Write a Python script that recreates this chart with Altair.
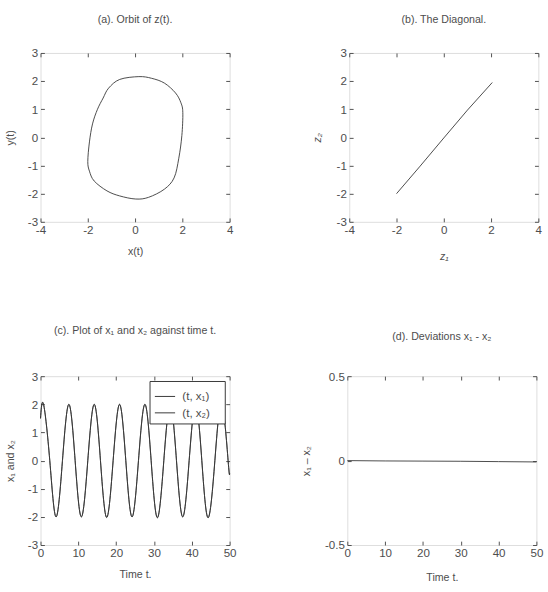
import altair as alt
import pandas as pd

FONT = "Liberation Sans, Arial, sans-serif"
INK = "#4d4d4d"
LINE = "#333333"
MINUS_FIX = "replace(datum.label, '\u2212', '-')"

# (a) orbit of z(t) in the (x, y) plane, read counter-clockwise from the top
orbit_x = [0.16, -0.65, -1.12, -1.35, -1.59, -1.80, -1.93, -2.00, -1.93, -1.73, -1.19, -0.65,
           0.03, 0.57, 1.24, 1.65, 1.85, 1.98, 2.02, 1.94, 1.71, 1.24, 0.70]
orbit_y = [2.16, 2.06, 1.75, 1.40, 1.00, 0.48, -0.16, -0.86, -1.20, -1.55, -1.90, -2.08,
           -2.19, -2.13, -1.84, -1.44, -0.74, 0.07, 0.88, 1.23, 1.58, 1.93, 2.10]

# (b) z1 against z2
diag_z1 = [-2.00, -1.00, 0.00, 1.00, 2.05]
diag_z2 = [-2.00, -1.02, -0.02, 0.97, 1.95]

# (c) x1 and x2 against time
time_c = [0.0, 0.8, 2.45, 4.1, 5.8, 7.5, 9.15, 10.8, 12.5, 14.2, 15.85, 17.5, 19.2, 20.9,
          22.55, 24.2, 25.9, 27.6, 29.25, 30.9, 32.6, 34.3, 35.95, 37.6, 39.3, 41.0,
          42.65, 44.3, 46.1, 47.9, 49.6, 50.0]
x1_c = [1.5, 2.0, 0.0, -2.0, 0.0, 2.0, 0.0, -2.0, 0.0, 2.0, 0.0, -2.02, 0.0, 2.0,
        0.0, -2.0, 0.0, 2.0, 0.0, -2.03, 0.0, 2.0, 0.0, -2.0, 0.0, 2.0,
        0.0, -2.03, 0.0, 2.0, 0.0, -0.45]
x2_c = [1.5, 2.0, 0.0, -2.0, 0.0, 2.0, 0.0, -2.0, 0.0, 2.0, 0.0, -2.02, 0.0, 2.0,
        0.0, -2.0, 0.0, 2.0, 0.0, -2.03, 0.0, 2.0, 0.0, -2.0, 0.0, 2.0,
        0.0, -2.03, 0.0, 2.0, 0.0, -0.45]
series_names = ["(t,    x\u2081)", "(t,    x\u2082)"]

# (d) deviation x1 - x2 against time
time_d = [0, 10, 20, 30, 40, 50]
dev_d = [0.0, -0.002, -0.003, -0.004, -0.006, -0.008]

W, H = 196, 175


def ax_label(orient, values, title, extent, pad, fmt=None, italic=False):
    kw = dict(orient=orient, values=values, offset=-4, tickSize=4, tickColor=INK,
              domain=False, grid=False, labelPadding=3, labelColor=INK,
              labelFont=FONT, labelFontSize=12, labelExpr=MINUS_FIX,
              title=title, titleFont=FONT,
              titleFontSize=11, titleFontWeight="normal", titleColor=INK,
              titlePadding=pad, minExtent=extent, maxExtent=extent, labelFlush=False)
    if fmt:
        kw["format"] = fmt
    if italic:
        kw["titleFontStyle"] = "italic"
    return alt.Axis(**kw)


def ax_plain(orient, values):
    return alt.Axis(orient=orient, values=values, offset=-4, tickSize=4, tickColor=INK,
                    domain=False, grid=False, labels=False, title=None,
                    minExtent=0, maxExtent=0)


def panel(df, xf, yf, xdom, ydom, xt, yt, xtitle, ytitle, ypad, xpad,
          title, toff, interp="linear", order=None, color=None, yfmt=None, italic=False):
    xs = alt.Scale(domain=xdom, nice=False, zero=False)
    ys = alt.Scale(domain=ydom, nice=False, zero=False)
    enc = {}
    if order:
        enc["order"] = alt.Order(order, type="quantitative")
    if color is not None:
        enc["color"] = color
    front = alt.Chart(df).mark_line(interpolate=interp, strokeWidth=0.9, color=LINE).encode(
        x=alt.X(xf, type="quantitative", scale=xs,
                axis=ax_label("bottom", xt, xtitle, 18, xpad, italic=italic)),
        y=alt.Y(yf, type="quantitative", scale=ys,
                axis=ax_label("left", yt, ytitle, 20, ypad, fmt=yfmt, italic=italic)),
        **enc,
    )
    back = alt.Chart(df).mark_line(interpolate=interp, strokeOpacity=0).encode(
        x=alt.X(xf, type="quantitative", scale=xs, axis=ax_plain("top", xt)),
        y=alt.Y(yf, type="quantitative", scale=ys, axis=ax_plain("right", yt)),
    )
    return alt.layer(front, back).resolve_axis(x="independent", y="independent").properties(
        width=W, height=H,
        title=alt.TitleParams(title, font=FONT, fontSize=11, fontWeight="normal",
                              color=INK, offset=toff),
    )


orbit = pd.DataFrame({"x": orbit_x, "y": orbit_y, "k": range(len(orbit_x))})
diag = pd.DataFrame({"z1": diag_z1, "z2": diag_z2})
series = pd.concat([
    pd.DataFrame({"t": time_c, "v": x1_c, "s": series_names[0]}),
    pd.DataFrame({"t": time_c, "v": x2_c, "s": series_names[1]}),
])
devs = pd.DataFrame({"t": time_d, "d": dev_d})

pa = panel(orbit, "x", "y", [-4, 4], [-3, 3], [-4, -2, 0, 2, 4], [-3, -2, -1, 0, 1, 2, 3],
           "x(t)", "y(t)", 10, 11, "(a). Orbit of z(t).", 23,
           interp="cardinal-closed", order="k")

pb = panel(diag, "z1", "z2", [-4, 4], [-3, 3], [-4, -2, 0, 2, 4], [-3, -2, -1, 0, 1, 2, 3],
           "z\u2081", "z\u2082", 12, 16, "(b). The Diagonal.", 23, italic=True)

legend_color = alt.Color(
    "s:N",
    scale=alt.Scale(domain=series_names, range=[LINE, LINE]),
    legend=alt.Legend(title=None, orient="top-right", offset=5, fillColor="white",
                      strokeColor="#333", padding=5, symbolType="stroke", symbolSize=440,
                      symbolStrokeWidth=1, labelFont=FONT, labelFontSize=12,
                      labelColor=INK, rowPadding=0, labelOffset=7),
)
pc = panel(series, "t", "v", [0, 50], [-3, 3], [0, 10, 20, 30, 40, 50],
           [-3, -2, -1, 0, 1, 2, 3], "Time  t.", "x\u2081  and  x\u2082", 10, 11,
           "(c). Plot of   x\u2081    and   x\u2082   against time t.", 36,
           interp="natural", color=legend_color)

pd_ = panel(devs, "t", "d", [0, 50], [-0.5, 0.5], [0, 10, 20, 30, 40, 50], [-0.5, 0, 0.5],
            "Time  t.", "x\u2081 \u2013 x\u2082", 21, 14,
            "(d). Deviations    x\u2081 - x\u2082", 30, yfmt="~g")

chart = alt.vconcat(
    alt.hconcat(pa, pb, spacing=80).resolve_legend(color="independent"),
    alt.hconcat(pc, pd_, spacing=65).resolve_legend(color="independent"),
    spacing=64,
).resolve_legend(color="independent").properties(
    padding={"left": 4, "top": 3, "right": 4, "bottom": 4},
).configure_view(
    stroke="#555", strokeWidth=1,
).configure(background="white")

chart.save("out.html", embed_options={"renderer": "svg", "actions": False})
